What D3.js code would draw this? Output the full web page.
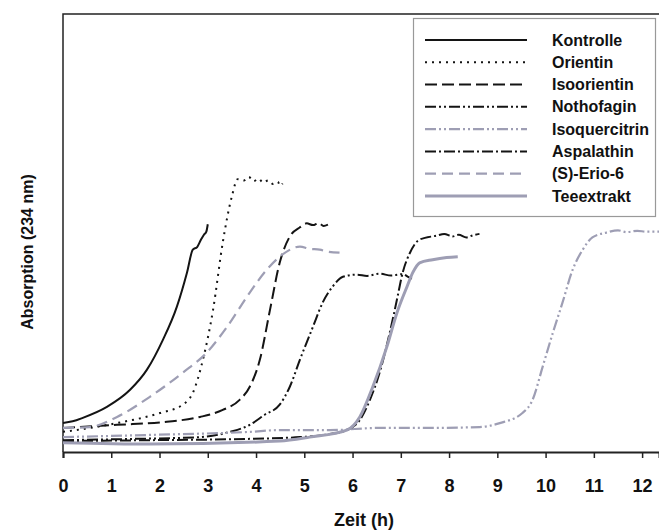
<!DOCTYPE html>
<html>
<head>
<meta charset="UTF-8">
<title>Absorption</title>
<style>
  body { margin: 0; background: #ffffff; }
  svg { font-family: "Liberation Sans", Arial, sans-serif; }
</style>
</head>
<body>
<svg id="chart" width="659" height="530"></svg>
<script src="https://cdn.jsdelivr.net/npm/d3@7"></script>
<script>
// time in hours, absorption in arbitrary units (0..100 = axis height)
var kontrolleT = [0, 0.2, 0.41, 0.91, 1.39, 1.74, 2.07, 2.36, 2.57, 2.69, 2.78, 2.86, 2.92, 2.97, 3.0];
var kontrolleY = [6.6, 7.0, 7.8, 10.3, 14.2, 18.8, 25.6, 33.2, 41.0, 46.2, 46.8, 48.5, 49.6, 50.3, 52.0];

var orientinT = [0, 0.56, 1.12, 2.01, 2.48, 2.69, 2.9, 3.11, 3.31, 3.5, 3.62, 3.75, 3.85, 3.95, 4.05, 4.15, 4.25, 4.35, 4.45, 4.5, 4.55];
var orientinY = [4.6, 5.5, 6.6, 8.9, 10.8, 13.5, 21.1, 32.5, 47.8, 58.4, 62.3, 62.0, 62.8, 61.8, 62.4, 61.5, 62.0, 61.2, 61.7, 60.8, 61.3];

var isoorientinT = [0, 1.12, 2.15, 2.84, 3.31, 3.66, 3.87, 4.08, 4.29, 4.49, 4.7, 4.91, 5.05, 5.18, 5.3, 5.4, 5.49];
var isoorientinY = [5.5, 6.2, 6.9, 8.0, 9.6, 11.9, 14.9, 21.1, 32.5, 43.2, 49.2, 51.3, 52.2, 51.8, 52.3, 51.6, 51.9];

var nothofaginT = [0, 1.5, 2.84, 3.46, 3.87, 4.18, 4.49, 4.7, 4.91, 5.18, 5.38, 5.59, 5.8, 6.09, 6.3, 6.56, 6.8, 7.04, 7.15, 7.23];
var nothofaginY = [2.7, 3.0, 3.4, 4.6, 6.2, 8.5, 10.8, 14.9, 21.1, 28.6, 34.1, 37.8, 40.0, 40.5, 40.2, 40.7, 40.3, 40.6, 40.0, 39.6];

var isoquercitrinT = [0, 1.8, 3.87, 4.49, 5.53, 6.56, 7.6, 8.63, 9.05, 9.52, 9.73, 9.94, 10.15, 10.35, 10.56, 10.77, 10.97, 11.26, 11.5, 11.68, 11.9, 12.09, 12.35];
var isoquercitrinY = [3.4, 3.9, 4.6, 5.0, 5.0, 5.5, 5.5, 5.7, 6.6, 8.9, 11.9, 19.5, 27.2, 34.1, 41.6, 46.2, 49.0, 50.1, 50.6, 50.2, 50.5, 50.3, 50.3];

var aspalathinT = [0, 1.81, 3.87, 4.91, 5.53, 5.88, 6.15, 6.36, 6.56, 6.77, 6.92, 7.04, 7.19, 7.39, 7.74, 7.9, 8.07, 8.2, 8.36, 8.5, 8.63];
var aspalathinY = [2.5, 2.7, 3.0, 3.4, 4.1, 5.0, 7.3, 11.9, 18.1, 27.2, 34.8, 41.0, 45.5, 48.5, 49.4, 49.8, 49.2, 49.6, 49.0, 49.5, 49.8];

var erioT = [0, 0.56, 1.12, 1.8, 2.48, 2.98, 3.4, 3.87, 4.22, 4.55, 4.91, 5.1, 5.32, 5.5, 5.73];
var erioY = [5.5, 5.7, 8.0, 12.6, 18.1, 22.7, 28.6, 36.4, 41.6, 45.1, 46.9, 46.4, 46.2, 45.7, 45.5];

var teeT = [0, 1.8, 4.49, 5.11, 5.88, 6.15, 6.42, 6.71, 6.92, 7.13, 7.25, 7.39, 7.66, 7.95, 8.18];
var teeY = [2.1, 1.8, 2.5, 3.4, 5.0, 8.0, 14.9, 24.0, 31.8, 37.8, 41.0, 43.2, 43.9, 44.4, 44.6];

var seriesNames = ["Kontrolle", "Orientin", "Isoorientin", "Nothofagin", "Isoquercitrin", "Aspalathin", "(S)-Erio-6", "Teeextrakt"];
var seriesT = [kontrolleT, orientinT, isoorientinT, nothofaginT, isoquercitrinT, aspalathinT, erioT, teeT];
var seriesY = [kontrolleY, orientinY, isoorientinY, nothofaginY, isoquercitrinY, aspalathinY, erioY, teeY];
var xTicks = [0, 1, 2, 3, 4, 5, 6, 7, 8, 9, 10, 11, 12];

var black = "#141414", grey = "#9e9eb4";
var styles = [
  { color: black, width: 2, dash: null },
  { color: black, width: 2, dash: "2,5" },
  { color: black, width: 2, dash: "12,5" },
  { color: black, width: 2, dash: "11,3,2,3,2,3" },
  { color: grey, width: 2.2, dash: "11,3,2,3,2,3" },
  { color: black, width: 2, dash: "11,3,2,3" },
  { color: grey, width: 2.2, dash: "11,6" },
  { color: grey, width: 3, dash: null }
];

var svg = d3.select("#chart");
var mLeft = 63, mRight = 659, mTop = 14, mBottom = 452;

var x = d3.scaleLinear().domain([0, 12.35]).range([mLeft, mRight]);
var y = d3.scaleLinear().domain([0, 100]).range([mBottom, mTop]);

// frame
svg.append("path")
  .attr("d", "M" + mRight + "," + mTop + "H" + mLeft + "V" + mBottom)
  .attr("fill", "none").attr("stroke", "#222").attr("stroke-width", 1.5);

var line = d3.line()
  .curve(d3.curveMonotoneX)
  .x(function(d) { return x(d[0]); })
  .y(function(d) { return y(d[1]); });

seriesNames.forEach(function(name, i) {
  var pts = seriesT[i].map(function(t, j) { return [t, seriesY[i][j]]; });
  svg.append("path")
    .datum(pts)
    .attr("d", line)
    .attr("fill", "none")
    .attr("stroke", styles[i].color)
    .attr("stroke-width", styles[i].width)
    .attr("stroke-dasharray", styles[i].dash);
});

// x axis
var xAxis = svg.append("g")
  .attr("transform", "translate(0," + mBottom + ")")
  .call(d3.axisBottom(x).tickValues(xTicks).tickSize(6).tickPadding(21).tickFormat(d3.format("d")));
xAxis.select(".domain").attr("stroke", "#222").attr("stroke-width", 2);
xAxis.selectAll(".tick line").attr("stroke", "#222").attr("stroke-width", 1.5);
xAxis.selectAll(".tick text")
  .attr("font-family", "Liberation Sans, Arial, sans-serif")
  .attr("font-size", 18).attr("font-weight", "bold").attr("fill", "#111");

svg.append("text")
  .attr("x", 364).attr("y", 526)
  .attr("text-anchor", "middle")
  .attr("font-size", 18).attr("font-weight", "bold").attr("fill", "#111")
  .text("Zeit (h)");

svg.append("text")
  .attr("transform", "translate(33,252) rotate(-90)")
  .attr("text-anchor", "middle")
  .attr("font-size", 16).attr("font-weight", "bold").attr("fill", "#111")
  .text("Absorption (234 nm)");

// legend
var legend = svg.append("g");
legend.append("rect")
  .attr("x", 413.5).attr("y", 18.5).attr("width", 242).attr("height", 198)
  .attr("fill", "#fff").attr("stroke", "#999").attr("stroke-width", 1.2);

var rowY = d3.scaleLinear().domain([0, 7]).range([40, 196]);
seriesNames.forEach(function(name, i) {
  legend.append("line")
    .attr("x1", 425).attr("x2", 527)
    .attr("y1", rowY(i)).attr("y2", rowY(i))
    .attr("stroke", styles[i].color)
    .attr("stroke-width", styles[i].width)
    .attr("stroke-dasharray", styles[i].dash);
  legend.append("text")
    .attr("x", 552).attr("y", rowY(i)).attr("dy", "0.35em")
    .attr("font-size", 16).attr("font-weight", "bold").attr("fill", "#111")
    .text(name);
});
</script>
</body>
</html>
